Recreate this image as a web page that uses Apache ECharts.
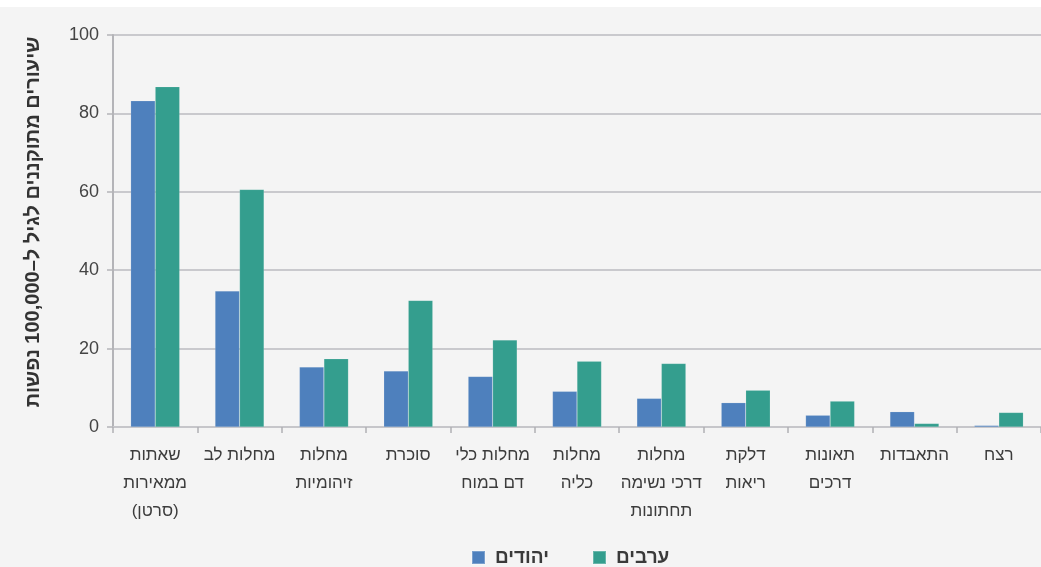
<!DOCTYPE html>
<html>
<head>
<meta charset="utf-8">
<script src="https://cdn.jsdelivr.net/npm/echarts@6/dist/echarts.min.js"></script>
<style>
html,body{margin:0;padding:0;background:#fff;}
#c{width:1041px;height:567px;}
</style>
</head>
<body>
<div id="c"></div>
<script>
const categories = [
  "שאתות\nממאירות\n(סרטן)",
  "מחלות לב",
  "מחלות\nזיהומיות",
  "סוכרת",
  "מחלות כלי\nדם במוח",
  "מחלות\nכליה",
  "מחלות\nדרכי נשימה\nתחתונות",
  "דלקת\nריאות",
  "תאונות\nדרכים",
  "התאבדות",
  "רצח"
];
const seriesNames = ["יהודים", "ערבים"];
const jews = [83.2, 34.7, 15.3, 14.3, 12.9, 9.1, 7.3, 6.2, 3.0, 3.9, 0.4];
const arabs = [86.8, 60.6, 17.4, 32.3, 22.2, 16.8, 16.2, 9.4, 6.6, 0.9, 3.7];
const yTicks = [0, 20, 40, 60, 80, 100];
const yAxisTitle = "שיעורים מתוקננים לגיל ל–100,000 נפשות";

const FONT = '"Liberation Sans", Arial, "DejaVu Sans", sans-serif';
const chart = echarts.init(document.getElementById('c'), null, {renderer: 'canvas'});
chart.setOption({
  backgroundColor: '#f4f4f4',
  animation: false,
  graphic: [{type: 'rect', left: 0, top: 0, shape: {width: 1041, height: 7}, style: {fill: '#ffffff'}, silent: true}],
  grid: {left: 113, top: 35, width: 934, height: 392, containLabel: false},
  legend: {
    data: seriesNames,
    left: 466, top: 543,
    itemWidth: 13, itemHeight: 13, itemGap: 43,
    icon: 'rect',
    textStyle: {fontFamily: FONT, fontSize: 19, fontWeight: 'bold', color: '#3a3a3a', padding: [0, 0, 0, 5]}
  },
  xAxis: {
    type: 'category',
    data: categories,
    axisLine: {lineStyle: {color: '#c6c6ca', width: 2}},
    axisTick: {show: true, length: 6, lineStyle: {color: '#b0b0b4', width: 1.5}},
    axisLabel: {interval: 0, margin: 14, fontFamily: FONT, fontSize: 17, lineHeight: 28, color: '#3c3c3c', align: 'center'}
  },
  yAxis: {
    type: 'value',
    min: 0, max: 100, interval: 20,
    name: yAxisTitle,
    nameLocation: 'middle',
    nameRotate: 90,
    nameGap: 70,
    nameTextStyle: {fontFamily: FONT, fontSize: 20, fontWeight: 'bold', color: '#333', padding: [0, 0, 0, 18]},
    axisLine: {show: true, lineStyle: {color: '#b4b4b8', width: 2}},
    axisTick: {show: true, length: 6, lineStyle: {color: '#b4b4b8', width: 1.5}},
    axisLabel: {margin: 14, fontFamily: FONT, fontSize: 18, color: '#444',
      formatter: v => yTicks.includes(v) ? String(v) : ''},
    splitLine: {lineStyle: {color: '#c9c9cd', width: 2}}
  },
  series: [
    {name: seriesNames[0], type: 'bar', data: jews, barWidth: 24.5, barGap: '0%',
     itemStyle: {color: '#4e80bd', borderColor: 'rgba(255,255,255,0.25)', borderWidth: 0.5}},
    {name: seriesNames[1], type: 'bar', data: arabs, barWidth: 24.5, barGap: '0%',
     itemStyle: {color: '#349e8e', borderColor: 'rgba(255,255,255,0.25)', borderWidth: 0.5}}
  ]
});
</script>
</body>
</html>
